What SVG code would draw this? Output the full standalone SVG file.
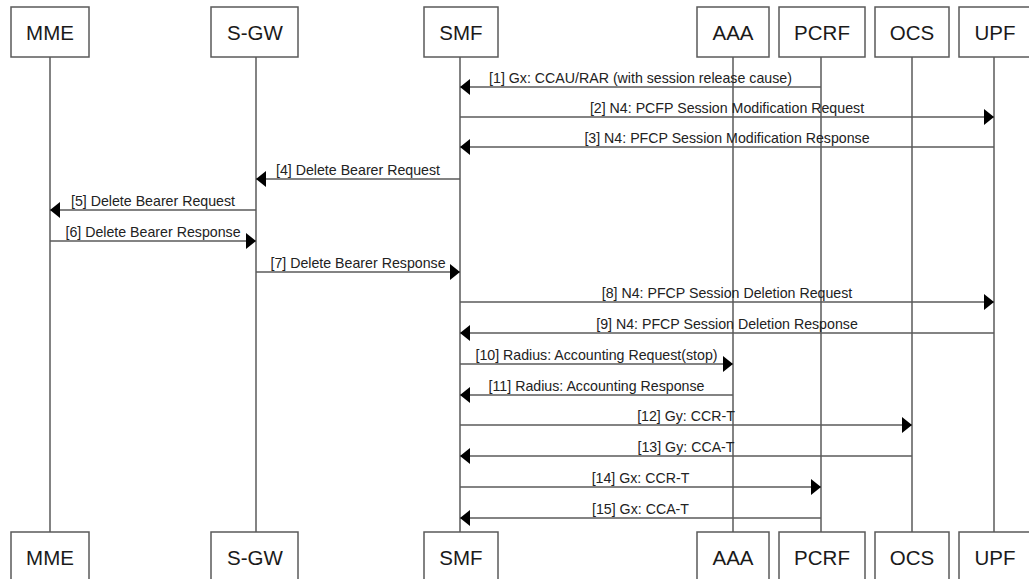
<svg xmlns="http://www.w3.org/2000/svg" width="1029" height="579" viewBox="0 0 1029 579">
<defs>
<style>
.box{fill:#fff;stroke:#5a5a5a;stroke-width:1.5}
.life{stroke:#5a5a5a;stroke-width:1.5;fill:none}
.msg{stroke:#5a5a5a;stroke-width:1.5;fill:none;marker-end:url(#ah)}
.nl{font-family:"Liberation Sans",Arial,sans-serif;font-size:20.5px;fill:#1a1a1a;text-anchor:middle}
.ml{font-family:"Liberation Sans",Arial,sans-serif;font-size:14.2px;fill:#222;text-anchor:middle}
</style>
<marker id="ah" markerUnits="userSpaceOnUse" markerWidth="11" markerHeight="16" refX="10" refY="8" orient="auto">
<path d="M0,0 L10,8 L0,16 z" fill="#000"/>
</marker>
</defs>
<rect width="1029" height="579" fill="#fff"/>
<g id="lifelines">
<line class="life" x1="50" y1="57" x2="50" y2="532"/>
<line class="life" x1="256" y1="57" x2="256" y2="532"/>
<line class="life" x1="460" y1="57" x2="460" y2="532"/>
<line class="life" x1="733" y1="57" x2="733" y2="532"/>
<line class="life" x1="821" y1="57" x2="821" y2="532"/>
<line class="life" x1="912" y1="57" x2="912" y2="532"/>
<line class="life" x1="994" y1="57" x2="994" y2="532"/>
</g>
<g id="node-MME">
<rect class="box" x="11" y="7" width="78" height="50"/><text class="nl" x="50" y="40">MME</text>
<rect class="box" x="11" y="532" width="78" height="50"/><text class="nl" x="50" y="565">MME</text>
</g>
<g id="node-SGW">
<rect class="box" x="211" y="7" width="87" height="50"/><text class="nl" x="255" y="40">S-GW</text>
<rect class="box" x="211" y="532" width="87" height="50"/><text class="nl" x="255" y="565">S-GW</text>
</g>
<g id="node-SMF">
<rect class="box" x="424" y="7" width="74" height="50"/><text class="nl" x="461" y="40">SMF</text>
<rect class="box" x="424" y="532" width="74" height="50"/><text class="nl" x="461" y="565">SMF</text>
</g>
<g id="node-AAA">
<rect class="box" x="697" y="7" width="72" height="50"/><text class="nl" x="733" y="40">AAA</text>
<rect class="box" x="697" y="532" width="72" height="50"/><text class="nl" x="733" y="565">AAA</text>
</g>
<g id="node-PCRF">
<rect class="box" x="779" y="7" width="86" height="50"/><text class="nl" x="822" y="40">PCRF</text>
<rect class="box" x="779" y="532" width="86" height="50"/><text class="nl" x="822" y="565">PCRF</text>
</g>
<g id="node-OCS">
<rect class="box" x="875" y="7" width="74" height="50"/><text class="nl" x="912" y="40">OCS</text>
<rect class="box" x="875" y="532" width="74" height="50"/><text class="nl" x="912" y="565">OCS</text>
</g>
<g id="node-UPF">
<rect class="box" x="959" y="7" width="74" height="50"/><text class="nl" x="995" y="40">UPF</text>
<rect class="box" x="959" y="532" width="74" height="50"/><text class="nl" x="995" y="565">UPF</text>
</g>
<g id="connectors">
<path class="msg" d="M821,87 H460"/><text class="ml" x="640.5" y="83">[1] Gx: CCAU/RAR (with session release cause)</text>
<path class="msg" d="M460,117 H994"/><text class="ml" x="727" y="113">[2] N4: PCFP Session Modification Request</text>
<path class="msg" d="M994,147 H460"/><text class="ml" x="727" y="143">[3] N4: PFCP Session Modification Response</text>
<path class="msg" d="M460,179 H256"/><text class="ml" x="358" y="175">[4] Delete Bearer Request</text>
<path class="msg" d="M256,210 H50"/><text class="ml" x="153" y="206">[5] Delete Bearer Request</text>
<path class="msg" d="M50,241 H256"/><text class="ml" x="153" y="237">[6] Delete Bearer Response</text>
<path class="msg" d="M256,272 H460"/><text class="ml" x="358" y="268">[7] Delete Bearer Response</text>
<path class="msg" d="M460,302 H994"/><text class="ml" x="727" y="298">[8] N4: PFCP Session Deletion Request</text>
<path class="msg" d="M994,333 H460"/><text class="ml" x="727" y="329">[9] N4: PFCP Session Deletion Response</text>
<path class="msg" d="M460,364 H733"/><text class="ml" x="596.5" y="360">[10] Radius: Accounting Request(stop)</text>
<path class="msg" d="M733,395 H460"/><text class="ml" x="596.5" y="391">[11] Radius: Accounting Response</text>
<path class="msg" d="M460,425 H912"/><text class="ml" x="686" y="421">[12] Gy: CCR-T</text>
<path class="msg" d="M912,456 H460"/><text class="ml" x="686" y="452">[13] Gy: CCA-T</text>
<path class="msg" d="M460,487 H821"/><text class="ml" x="640.5" y="483">[14] Gx: CCR-T</text>
<path class="msg" d="M821,518 H460"/><text class="ml" x="640.5" y="514">[15] Gx: CCA-T</text>
</g>
</svg>
